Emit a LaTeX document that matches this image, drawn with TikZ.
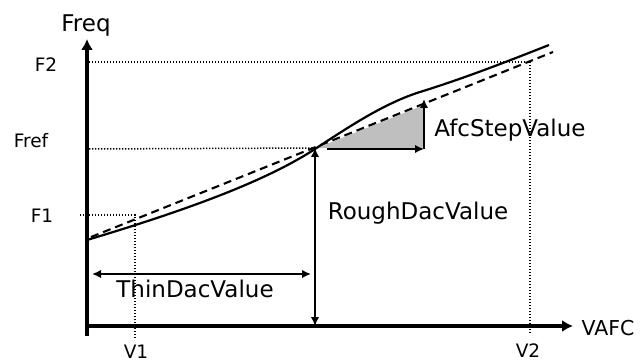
\documentclass[tikz,border=0pt]{standalone}
\usepackage{fontspec}
\setmainfont{DejaVu Sans}
\usetikzlibrary{arrows.meta}
\begin{document}
\begin{tikzpicture}[x=1pt,y=-1pt,
  axisline/.style={line width=4pt,-{Latex[length=11pt,width=12pt]}},
  dimarrow/.style={line width=2pt,-{Latex[length=9pt,width=8.5pt]}},
  dimboth/.style={line width=2pt,{Latex[length=9pt,width=8.5pt]}-{Latex[length=9pt,width=8.5pt]}},
  guide/.style={line width=1.5pt,dash pattern=on 1.4pt off 1.6pt},
  ideal/.style={line width=2.1pt,dash pattern=on 8pt off 5pt},
  real/.style={line width=2.2pt},
  biglbl/.style={anchor=base,inner sep=0pt,font=\fontsize{23}{23}\selectfont},
  smalllbl/.style={anchor=base,inner sep=0pt,font=\fontsize{18.5}{18.5}\selectfont}]
\useasboundingbox (0,0) rectangle (642,363);
% coordinates
\coordinate (O) at (87,326);
\coordinate (ybot) at (87,336);
\coordinate (ytop) at (87,39);
\coordinate (xend) at (573,326);
\coordinate (F2l) at (89,62);
\coordinate (F2r) at (530,62);
\coordinate (V2b) at (530,334);
\coordinate (Frefl) at (89,149);
\coordinate (P) at (315,148);
\coordinate (F1l) at (80,215);
\coordinate (F1r) at (135,215);
\coordinate (V1b) at (135,338);
\coordinate (Pb) at (315,326);
\coordinate (Q) at (424,149);
\coordinate (Qs) at (327,149);
\coordinate (R) at (424,99);
\coordinate (Tl) at (92,274);
\coordinate (Tr) at (311,274);
\coordinate (Dl) at (91,237);
\coordinate (Dr) at (553,52);
% gray triangle
\fill[gray!50] (317,148) -- (Q) -- (424,105) -- cycle;
% dotted guides
\draw[guide] (F2l) -- (F2r) -- (V2b);
\draw[guide] (Frefl) -- (P);
\draw[guide] (F1l) -- (F1r) -- (V1b);
% ideal (dashed) line
\draw[ideal] (Dl) -- (Dr);
% real curve
\draw[real] (87,240) .. controls (170,215) and (260,185) .. (315,149)
  .. controls (350,126) and (385,103) .. (420,92)
  .. controls (463,78.7) and (506,62) .. (549,45);
% dimension arrows
\draw[dimboth] (P) -- (Pb);
\draw[dimboth] (Tl) -- (Tr);
\draw[dimarrow] (Qs) -- (Q);
\draw[dimarrow] (Q) -- (R);
% axes
\draw[axisline] (ybot) -- (ytop);
\draw[axisline] (O) -- (xend);
% labels
\node[biglbl] (freq) at (86,32) {Freq};
\node[biglbl,font=\fontsize{20.5}{20.5}\selectfont] (vafc) at (608,335) {VAFC};
\node[biglbl] (rough) at (418,220) {RoughDacValue};
\node[biglbl] (thin) at (195,297) {ThinDacValue};
\node[biglbl] (afc) at (510,137) {AfcStepValue};
\node[smalllbl] (f2) at (46,72) {F2};
\node[smalllbl] (fref) at (31,148) {Fref};
\node[smalllbl] (f1) at (42,223) {F1};
\node[smalllbl] (v1) at (136,358) {V1};
\node[smalllbl] (v2) at (528,357) {V2};
\end{tikzpicture}
\end{document}
